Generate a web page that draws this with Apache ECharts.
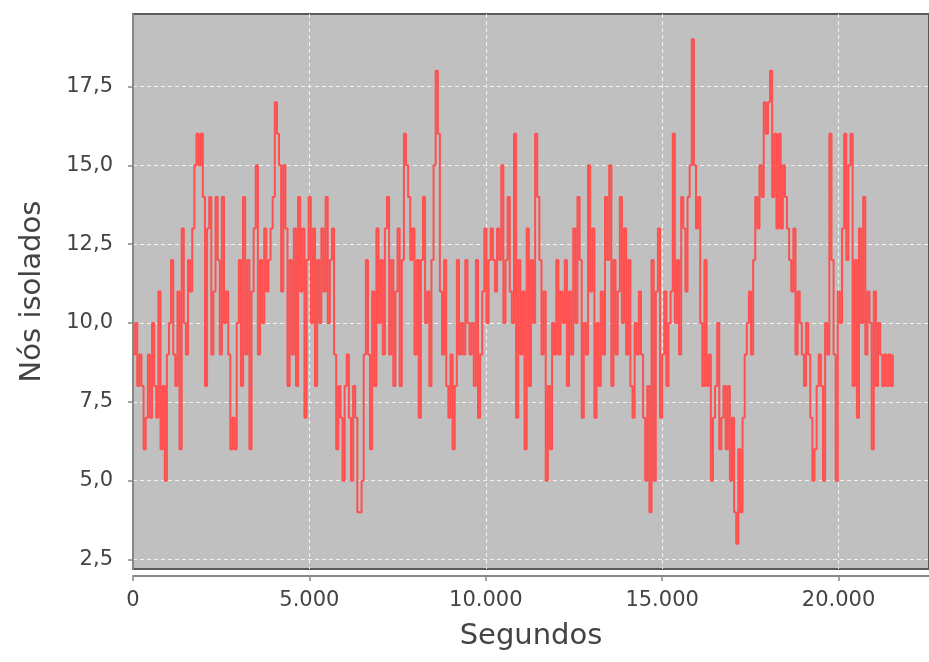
<!DOCTYPE html>
<html>
<head>
<meta charset="utf-8">
<script src="https://cdn.jsdelivr.net/npm/echarts@6/dist/echarts.min.js"></script>
<style>
html,body{margin:0;padding:0;background:#ffffff;}
#chart{width:929px;height:662px;}
</style>
</head>
<body>
<div id="chart"></div>
<script>
// Sampling interval of the simulation (seconds between samples)
const sampleInterval = 60;

// Number of isolated nodes at each sample
const isolatedNodes = [
  9,10,8,9,8, 6,7,9,7,10, 8,7,11,6,8, 5,9,10,12,9, 8,11,6,13,10,
  9,12,11,13,15, 16,15,16,14,8, 13,14,9,11,14, 12,9,14,10,11, 9,6,7,6,10,
  12,8,14,9,12, 6,11,13,15,9, 12,10,13,11,12, 13,14,17,16,15, 11,15,13,8,12,
  9,13,8,14,11, 13,7,12,14,10, 13,8,12,10,13, 11,14,10,12,13, 9,6,8,7,5,
  8,9,7,5,8, 7,4,4,5,9, 12,9,6,11,8, 13,10,12,9,13, 14,9,12,8,11,
  13,8,12,16,15, 14,12,13,9,12, 7,12,14,10,11, 8,12,15,18,16, 11,9,12,8,7,
  9,6,8,12,9, 10,9,12,10,9, 10,8,12,7,9, 11,13,10,12,13, 12,11,13,12,15,
  10,12,14,11,10, 16,7,12,9,11, 6,13,8,12,10, 16,14,12,9,11, 5,8,6,10,9,
  12,9,11,10,12, 8,11,9,13,10, 14,12,7,10,9, 15,11,13,7,10, 8,11,9,14,12,
  15,8,12,9,11, 14,10,13,9,12, 8,7,10,9,11, 9,7,5,8,4, 12,5,11,13,7,
  9,11,8,10,11, 16,10,12,9,14, 13,11,14,15,19, 15,13,14,10,8, 12,8,9,5,7,
  8,10,6,7,8, 6,8,5,7,4, 3,6,4,7,9, 10,11,9,12,14, 13,15,14,17,16,
  17,18,14,16,13, 16,13,15,14,13, 12,11,13,9,11, 10,9,8,10,9, 7,5,6,8,9,
  8,5,10,9,16, 12,9,5,11,10, 13,16,12,15,16, 8,12,7,13,10, 14,9,11,10,6,
  11,8,10,9,8, 9,8,9,8,9
];

// Axis tick values
const xTicks = [0, 5000, 10000, 15000, 20000];
const yTicks = [2.5, 5.0, 7.5, 10.0, 12.5, 15.0, 17.5];

// Axis titles
const xTitle = 'Segundos';
const yTitle = 'Nós isolados';

const seriesData = isolatedNodes.map((v, i) => [i * sampleInterval, v]);

function fmtThousands(v) {
  return String(Math.round(v)).replace(/\B(?=(\d{3})+(?!\d))/g, '.');
}
function fmtDecimal(v) {
  return v.toFixed(1).replace('.', ',');
}

const FONT = 'DejaVu Sans';
const chart = echarts.init(document.getElementById('chart'), null, {renderer: 'canvas'});
chart.setOption({
  animation: false,
  backgroundColor: '#ffffff',
  grid: {
    left: 133, top: 14, bottom: 93, right: -10,
    show: true,
    backgroundColor: '#c0c0c0',
    borderColor: '#5a5a5a',
    borderWidth: 2
  },
  xAxis: {
    type: 'value',
    min: 0,
    max: 22565,
    offset: 7,
    name: xTitle,
    nameLocation: 'middle',
    nameGap: 46,
    nameTextStyle: {fontFamily: FONT, fontSize: 29, color: '#444444'},
    axisLine: {show: true, lineStyle: {color: '#888888', width: 2}},
    axisTick: {show: true, length: 5, customValues: xTicks, lineStyle: {color: '#888888', width: 1.5}},
    axisLabel: {
      customValues: xTicks,
      margin: 14,
      fontFamily: FONT, fontSize: 21, color: '#444444',
      formatter: fmtThousands
    },
    splitLine: {show: true, lineStyle: {color: '#f2f2f2', width: 1, type: [4, 3]}}
  },
  yAxis: {
    type: 'value',
    min: 2.2,
    max: 19.8,
    offset: 8,
    name: yTitle,
    nameLocation: 'middle',
    nameGap: 78,
    nameTextStyle: {fontFamily: FONT, fontSize: 29, color: '#444444'},
    axisLine: {show: true, lineStyle: {color: '#888888', width: 2}},
    axisTick: {show: true, length: 5, customValues: yTicks, lineStyle: {color: '#888888', width: 1.5}},
    axisLabel: {
      customValues: yTicks,
      margin: 12,
      fontFamily: FONT, fontSize: 21, color: '#444444',
      formatter: fmtDecimal
    },
    splitLine: {show: true, lineStyle: {color: '#f2f2f2', width: 1, type: [4, 3]}}
  },
  series: [{
    type: 'line',
    step: 'end',
    data: seriesData,
    showSymbol: false,
    symbol: 'none',
    lineStyle: {color: '#ff4f4f', width: 2},
    itemStyle: {color: '#ff4f4f'},
    clip: true
  }]
});
</script>
</body>
</html>
